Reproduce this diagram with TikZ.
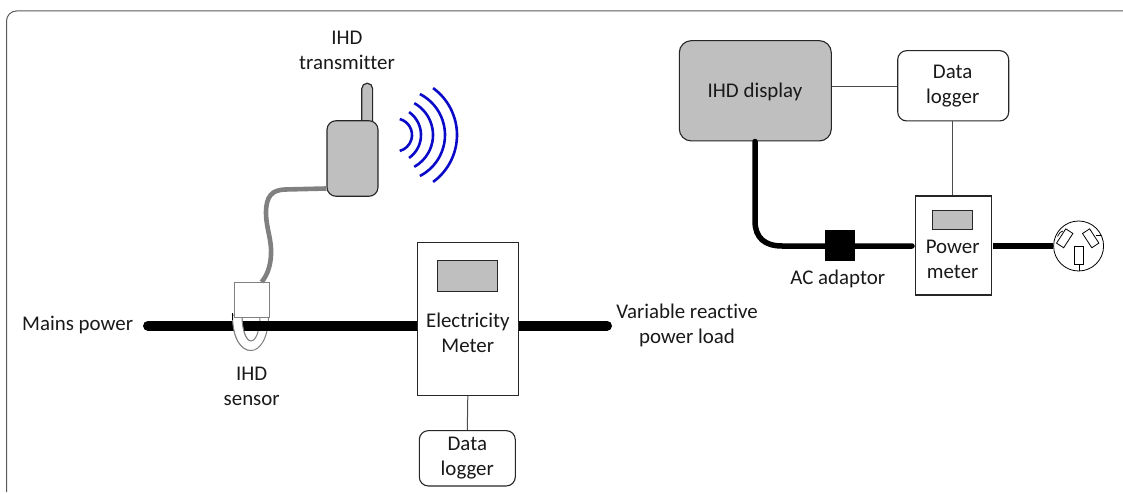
\documentclass[tikz,border=0pt]{standalone}
\usepackage{fontspec}
\setmainfont[Ligatures=NoCommon]{Carlito}
\usetikzlibrary{calc}
\definecolor{fillgray}{HTML}{BFBFBF}
\definecolor{wave}{HTML}{0A0AC8}
\tikzset{
  every node/.style={font=\fontsize{20.9}{25}\selectfont,text=black!90},
  plainbox/.style={draw=black!85,line width=1.1pt,fill=white,inner sep=0pt},
  roundbox/.style={plainbox,rounded corners=9pt},
  grayround/.style={draw=black!85,line width=1.1pt,fill=fillgray,inner sep=0pt},
  screen/.style={draw=black!85,line width=1.1pt,fill=fillgray,inner sep=0pt},
  wire/.style={draw=black!70,line width=1pt},
  mains/.style={draw=black,line width=10pt,line cap=round},
  lbl/.style={align=center,inner sep=0pt},
  wavearc/.style={draw=wave,line width=2.6pt},
  pin/.style={draw=black,line width=.8pt,fill=white,inner sep=0pt}
}
\begin{document}
\begin{tikzpicture}[x=1pt,y=-1pt]
\useasboundingbox (0,0) rectangle (1123,494);
% frame
\draw[black!65,line width=1pt] (6.5,492) -- (6.5,21) arc[start angle=180,end angle=270,radius=10] -- (1123,11);
% boxes
\node[plainbox,minimum width=101pt,minimum height=153pt] (emeter) at (467.8,318.8) {};
\coordinate (mainsL) at (148,325.7);
\coordinate (mainsR) at (607,325.7);
% sensor ring behind line
\path[draw=black!50,line width=1pt,fill=white]
  (232.5,315) .. controls (232.5,340) and (242,350.5) .. (251,350.5) .. controls (260,350.5) and (268.5,338) .. (268.5,316) -- (260,316) .. controls (260,330) and (256,341) .. (251,341) .. controls (246,341) and (242,330) .. (242,316) -- cycle;
\draw[mains] (mainsL) -- (emeter.west|-mainsL);
\draw[mains] (emeter.east|-mainsR) -- (mainsR);
% front part of ring
\path[draw=black!50,line width=1pt,fill=white]
  (232.5,315) .. controls (232.5,340) and (242,350.5) .. (251,350.5) -- (251,341) .. controls (246,341) and (242,330) .. (242,316) -- cycle;
\fill[white] (250,341.8) -- (250,349.8) -- (255,349) -- (258,340) -- cycle;
\draw[black,line width=.8pt] (232.3,320) -- (232.3,313);
\node[plainbox,minimum width=101pt,minimum height=153pt] (emeterfront) at (467.8,318.8) {};
\node[screen,minimum width=60.3pt,minimum height=30.6pt] (escreen) at (467.2,276) {};
\node[draw=black!50,line width=1pt,fill=white,inner sep=0pt,minimum width=35pt,minimum height=35.5pt] (sensor) at (251.8,299.8) {};
% transmitter
\draw[draw=black!85,line width=1.2pt,fill=fillgray,rounded corners=5.4pt] (361.8,122) -- (361.8,83.2) -- (372.6,83.2) -- (372.6,122);
\node[grayround,rounded corners=9pt,minimum width=51pt,minimum height=75.5pt] (tx) at (352.5,158.5) {};
\coordinate (cableEnd) at (261.5,282);
\draw[draw=black!50,line width=4.6pt] (tx.west|-0,188.5) -- (285,189.5) .. controls (272,190) and (266,196) .. (266,213) .. controls (266,228) and (272,240) .. (271,255) .. controls (270.5,266) and (267,276) .. (cableEnd);
% waves
\draw[wavearc] ($(395.5,135)+(-75:16.5)$) arc[start angle=-75,end angle=75,radius=16.5];
\draw[wavearc] ($(393,135)+(-55:28)$) arc[start angle=-55,end angle=55,radius=28];
\draw[wavearc] ($(396.6,135)+(-61:36.4)$) arc[start angle=-61,end angle=61,radius=36.4];
\draw[wavearc] ($(399,135)+(-63:46)$) arc[start angle=-63,end angle=63,radius=46];
\draw[wavearc] ($(399,135)+(-54:58)$) arc[start angle=-54,end angle=54,radius=58];
% bottom logger
\node[roundbox,minimum width=96pt,minimum height=55.3pt] (dl1) at (467.3,458.3) {};
\draw[wire] (emeterfront.south) -- (dl1.north);
% right part
\node[grayround,rounded corners=12pt,minimum width=152pt,minimum height=100.3pt] (disp) at (755.3,90.8) {};
\node[roundbox,minimum width=111pt,minimum height=70.3pt] (dl2) at (953.2,85.8) {};
\node[plainbox,minimum width=75.6pt,minimum height=99pt] (pm) at (953.5,245.5) {};
\node[screen,minimum width=40pt,minimum height=19pt] (pscreen) at (952.7,219.8) {};
\draw[wire] (disp.east|-0,86.3) -- (dl2.west|-0,86.3);
\draw[wire] (dl2.south-|952.7,0) -- (pm.north-|952.7,0);
\coordinate (dcEnd) at (912,246);
\draw[draw=black,line width=5.5pt,line cap=round] (disp.south-|755,0) -- (755,221) .. controls (755,238) and (765,246) .. (782,246) -- (dcEnd);
\node[draw=none,fill=black,minimum width=30pt,minimum height=31pt,inner sep=0pt] (adapter) at (840,245.5) {};
% socket
\node[draw=black,line width=.8pt,circle,minimum size=50pt,inner sep=0pt,fill=white] (sock) at (1078.6,246) {};
\draw[draw=black,line width=5.5pt] (pm.east|-sock.west) ++(1,0) -- (sock.west);
\draw[black,line width=.7pt] (1057.5,236.5) -- (1060,232.5) -- (1063,231);
\draw[black,line width=.7pt] (1096,235) -- (1101,235);
\node[pin,rotate=-33,minimum width=8.5pt,minimum height=17pt] (pinL) at (1064.7,238.3) {};
\node[pin,rotate=33,minimum width=8.5pt,minimum height=17pt] (pinR) at (1090.7,238.3) {};
\node[pin,minimum width=9.4pt,minimum height=17.6pt] (pinE) at (1079,255.5) {};
\draw[black,line width=.7pt] (pinE.south) -- (pinE.south|-sock.south);
% labels
\node[lbl] (t1) at (347,50.5) {IHD\\transmitter};
\node[lbl] (t2) at (251.7,386.5) {IHD\\sensor};
\node[lbl,anchor=west] (t3) at (22,325) {Mains power};
\node[lbl] (t4) at (467.8,332.5) {Electricity\\Meter};
\node[lbl] (t5) at (687,325.5) {Variable reactive\\power load};
\node[lbl] (t6) at (467.3,458) {Data\\logger};
\node[lbl] (t7) at (755,92) {IHD display};
\node[lbl] (t8) at (952.7,86.5) {Data\\logger};
\node[lbl] (t9) at (952.7,259) {Power\\meter};
\node[lbl] (t10) at (837.7,279) {AC adaptor};
\end{tikzpicture}
\end{document}
